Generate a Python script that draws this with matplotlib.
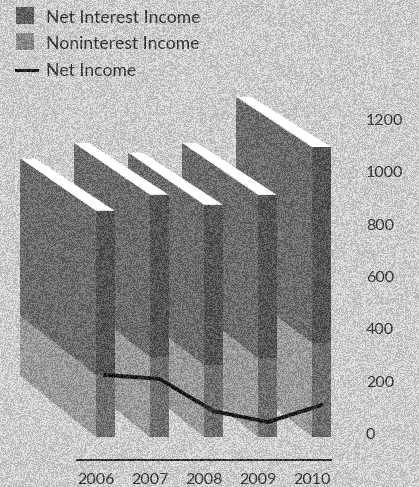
import numpy as np
import matplotlib
matplotlib.use('Agg')
import matplotlib.pyplot as plt
from matplotlib.patches import Polygon, Rectangle

plt.rcParams['font.family'] = ['Lato', 'DejaVu Sans']

# values
years = ['2006', '2007', '2008', '2009', '2010']
noninterest = [237, 306, 275, 302, 359]
net_interest = [627, 619, 612, 623, 749]
net_income = [237, 222, 99, 57, 122]
y_ticks = [0, 200, 400, 600, 800, 1000, 1200]

# colours
bg = '#dbdbdb'
top_col = '#ffffff'
side_dark = '#696969'
side_light = '#a0a0a0'
front_dark = '#4d4d4d'
front_light = '#6b6b6b'
text_col = '#2a2a2a'

# pixel geometry of the figure
W, H = 419, 487
base_px = 437
px_per_unit = 0.2617
step_px = 54
first_center = 105.5
bar_w = 19 / step_px
depth_x = 76 / step_px


def rise(v):
    # slight perspective: the receding edges get flatter further up
    return 235 - 33 * v / 855


fig = plt.figure(figsize=(W / 100, H / 100), dpi=100, facecolor=bg)
ax = fig.add_axes([0, 0, 1, 1])
ax.set_xlim(-first_center / step_px, (W - first_center) / step_px)
ax.set_ylim((base_px - H) / px_per_unit, base_px / px_per_unit)
ax.axis('off')


def px_x(p):
    return (p - first_center) / step_px


def px_y(p):
    return (base_px - p) / px_per_unit


# back bars first so the earlier years sit in front
for i in range(len(years) - 1, -1, -1):
    low = noninterest[i]
    total = noninterest[i] + net_interest[i]
    l = i - bar_w / 2
    r = i + bar_w / 2
    bl = l - depth_x

    ax.add_patch(Polygon([(l, 0), (l, low), (bl, low + rise(low)), (bl, rise(0))],
                         fc=side_light, ec='none', zorder=2))
    ax.add_patch(Polygon([(l, low), (l, total), (bl, total + rise(total)), (bl, low + rise(low))],
                         fc=side_dark, ec='none', zorder=2))
    ax.add_patch(Polygon([(l, total), (r, total), (bl + 15 / step_px, total + rise(total)),
                          (bl, total + rise(total))],
                         fc=top_col, ec='none', zorder=2))
    ax.bar(i, low, width=bar_w, color=front_light, zorder=2)
    ax.bar(i, net_interest[i], bottom=low, width=bar_w, color=front_dark, zorder=2)

ax.plot(range(len(years)), net_income, color='#0c0c0c', lw=2.8, zorder=5,
        solid_joinstyle='miter')

# right hand scale
for t in y_ticks:
    ax.text(px_x(366), t + 2 / px_per_unit, str(t), ha='left', va='center',
            fontsize=11.5, color=text_col, zorder=6)

# year axis
ax.plot([px_x(77), px_x(331)], [px_y(460), px_y(460)], color='#000000', lw=1.2, zorder=5)
for i, y in enumerate(years):
    ax.text(i + bar_w / 2, px_y(480), y, ha='right', va='center',
            fontsize=11.5, color=text_col, zorder=6)

# legend
ax.add_patch(Rectangle((px_x(16), px_y(24)), 18 / step_px, 17 / px_per_unit, fc='#585858', ec='none', zorder=5))
ax.add_patch(Rectangle((px_x(16), px_y(50)), 18 / step_px, 17 / px_per_unit, fc='#8a8a8a', ec='none', zorder=5))
ax.plot([px_x(16), px_x(37)], [px_y(70), px_y(70)], color='#0c0c0c', lw=2.2, zorder=5)
for label, p in zip(['Net Interest Income', 'Noninterest Income', 'Net Income'], [18, 44, 71]):
    ax.text(px_x(46), px_y(p), label, ha='left', va='center', fontsize=12.6,
            color=text_col, zorder=6)

# halftone grain of the scanned page, left off the pure white tops
fig.canvas.draw()
page = np.asarray(fig.canvas.buffer_rgba())[..., 0]
rng = np.random.default_rng(3)
grain = np.zeros((H, W, 4))
grain[..., :3] = (rng.random((H, W)) > 0.5)[..., None]
grain[..., 3] = np.where(page[:H, :W] > 250, 0.0, 0.16)
ov = fig.add_axes([0, 0, 1, 1], zorder=10)
ov.imshow(grain, interpolation='nearest', aspect='auto')
ov.axis('off')

fig.savefig('out.png', dpi=100, facecolor=bg)
